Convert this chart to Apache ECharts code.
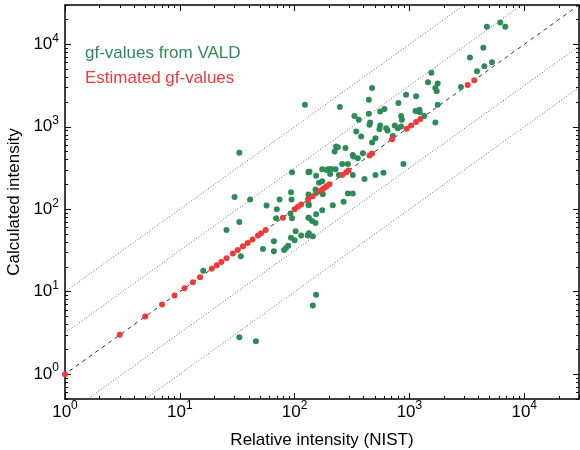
<!DOCTYPE html>
<html>
<head>
<meta charset="utf-8">
<script src="https://cdn.jsdelivr.net/npm/echarts@6/dist/echarts.min.js"></script>
<style>
html,body{margin:0;padding:0;background:#fff;}
#chart{width:580px;height:450px;}
</style>
</head>
<body>
<div id="chart"></div>
<script>
// ---- data ----
const valdPoints = [
  [16,18],[33,2.8],[46,2.5],[34,27],[33,486],[30,141],[41,131],[33,70],[25.5,56],
  [154,9.2],[144,6.8],
  [57,111],[74,131],[70,100],[69,78],[95,282],[132,282],[93,161],[94,131],[92,89],[95,78],
  [132,151],[132,117],[132,79],[102,54],[130,48],[93,45],[100,42],[66,41],[66,31],[53,33],
  [81,32],[88,36],[84,34],
  [362,1217],[449,1057],[455,1130],[344,877],[380,762],[548,935],[627,963],[645,900],
  [506,728],[473,644],[791,963],[847,1009],[716,776],[230,575],[223,500],[321,456],
  [355,415],[393,477],[260,354],[291,354],[133,285],[174,305],[154,255],[195,305],
  [204,267],[227,305],[321,260],[406,232],[506,260],[594,277],[887,354],[163,209],
  [174,218],[152,174],[154,158],[176,152],[291,155],[321,155],[267,123],[215,112],
  [133,112],[174,97],[154,87],[133,79],[142,72],[152,68],[133,51],[144,47],[114,48],
  [123,1854],[248,1738],[277,555],[238,565],[326,435],[208,307],[135,285],[243,260],[190,300],
  [3365,6934],[3880,4718],[2812,3047],[1683,2963],[1727,2692],[1763,3345],[1554,4518],
  [1452,3478],[473,2963],[443,2133],[935,2455],[1143,2344],[802,1945],[1222,1611],
  [1230,1500],[1130,1560],[1349,1349],[1763,1854],[1683,1128],[606,1644],[556,1537],
  [443,1442],[332,1349],[847,1349],[860,1217],[556,1040],[745,1040],
  [4730,16400],[6180,18370],[6840,16400],[4400,9120],[4490,5430],[5240,6080]
];
const estimatedPoints = [
  [1,1],[3,3],[5,5],[7,7],[9,9],[11,11],[13,13],[15,15],[19,19],[21,21],[23,23],
  [25.5,25.5],[29,29],[32,32],[35.5,35.5],[39,39],[43,43],[48,48],[51,51],[56,56],
  [79,79],[100,100],[107,107],[114,114],[131,131],[144,144],[165,165],[174,174],
  [182,182],[190,190],[201,201],[260,260],[282,282],[295,295],[449,449],[473,473],
  [707,707],[948,948],[1034,1034],[1143,1143],[1247,1247],[3216,3216],[3675,3675]
];
const seriesNames = ['gf-values from VALD', 'Estimated gf-values'];
const seriesColors = ['#2e8b57', '#f03a3a'];
// reference lines y = f * x
const refFactors = [0.1, 0.316, 1, 3.16, 10];
const xRange = [1, 30000];
const yRange = [0.5, 30000];
const majorTicks = [1, 10, 100, 1000, 10000];
const xTitle = 'Relative intensity (NIST)';
const yTitle = 'Calculated intensity';

// ---- helpers ----
function minorTicks(range) {
  const out = [];
  for (let e = -1; e <= 5; e++) {
    for (let m = 2; m <= 9; m++) {
      const v = m * Math.pow(10, e);
      if (v >= range[0] && v <= range[1]) out.push(v);
    }
  }
  return out;
}
const FONT = 'Liberation Sans, Arial, sans-serif';
const labelRich = {
  b: {fontSize: 17, lineHeight: 24, fontFamily: FONT, color: '#000', verticalAlign: 'middle'},
  e: {fontSize: 12, lineHeight: 12, fontFamily: FONT, color: '#000', verticalAlign: 'top'}
};
function powLabel(v) {
  return '{b|10}{e|' + Math.round(Math.log10(v)) + '}';
}
function makeAxis(kind, pos, range, major, isMain) {
  const ax = {
    type: 'log', logBase: 10, min: range[0], max: range[1], position: pos,
    splitLine: {show: false},
    axisLine: {show: major, onZero: false, lineStyle: {color: '#000', width: 1.5}},
    axisTick: {show: true, inside: true, length: major ? 6 : 3,
      customValues: major ? majorTicks : minorTicks(range),
      lineStyle: {color: '#000', width: 1}},
    axisLabel: {show: false},
    silent: true
  };
  if (isMain) {
    ax.axisLabel = {show: true, customValues: majorTicks, formatter: powLabel, rich: labelRich,
      margin: kind === 'x' ? 1 : 6};
    ax.name = kind === 'x' ? xTitle : yTitle;
    ax.nameLocation = 'middle';
    ax.nameGap = kind === 'x' ? 33 : 42;
    ax.nameTextStyle = {fontSize: 17, fontFamily: FONT, color: '#000'};
  }
  return ax;
}

const refSeries = refFactors.map(function (f) {
  return {
    type: 'line', xAxisIndex: 0, yAxisIndex: 0, symbol: 'none', silent: true,
    data: [[0.01, 0.01 * f], [1e6, 1e6 * f]],
    lineStyle: f === 1 ? {color: '#333', width: 1, type: [4, 4]}
                       : {color: '#666', width: 1, type: [1, 2]},
    z: 1
  };
});

const chart = echarts.init(document.getElementById('chart'), null, {renderer: 'canvas'});
chart.setOption({
  animation: false,
  backgroundColor: '#fff',
  grid: {left: 65, top: 5, width: 514, height: 394, containLabel: false, outerBoundsMode: 'none'},
  legend: {
    orient: 'vertical', left: 74, top: 40, itemGap: 8, itemWidth: 1, itemHeight: 1,
    selectedMode: false,
    data: seriesNames.map(function (n, i) {
      return {name: n, icon: 'none', textStyle: {color: seriesColors[i], fontSize: 17, fontFamily: FONT}};
    })
  },
  xAxis: [
    makeAxis('x', 'bottom', xRange, true, true),
    makeAxis('x', 'bottom', xRange, false, false),
    makeAxis('x', 'top', xRange, true, false),
    makeAxis('x', 'top', xRange, false, false)
  ],
  yAxis: [
    makeAxis('y', 'left', yRange, true, true),
    makeAxis('y', 'left', yRange, false, false),
    makeAxis('y', 'right', yRange, true, false),
    makeAxis('y', 'right', yRange, false, false)
  ],
  series: refSeries.concat([
    {name: seriesNames[0], type: 'scatter', xAxisIndex: 0, yAxisIndex: 0,
     data: valdPoints, symbolSize: 6, itemStyle: {color: seriesColors[0], opacity: 1}, z: 3},
    {name: seriesNames[1], type: 'scatter', xAxisIndex: 0, yAxisIndex: 0,
     data: estimatedPoints, symbolSize: 6, itemStyle: {color: seriesColors[1], opacity: 1}, z: 4}
  ])
});
</script>
</body>
</html>
